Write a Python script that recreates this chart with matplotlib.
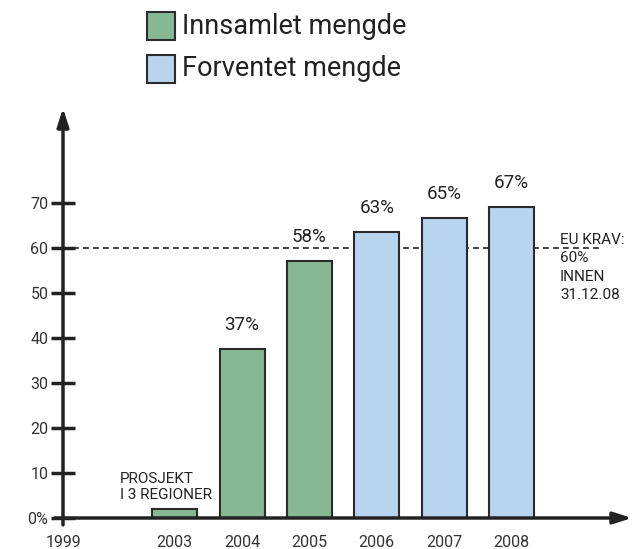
import matplotlib.pyplot as plt
from matplotlib.patches import Rectangle

# Data
years = ["2003", "2004", "2005", "2006", "2007", "2008"]
values = [2, 37.5, 57, 63.5, 66.5, 69]
bar_labels = ["", "37%", "58%", "63%", "65%", "67%"]
kinds = ["innsamlet", "innsamlet", "innsamlet", "forventet", "forventet", "forventet"]
y_ticks = [0, 10, 20, 30, 40, 50, 60, 70]
y_ticklabels = ["0%", "10", "20", "30", "40", "50", "60", "70"]
eu_krav = 60

green = "#86b894"
blue = "#b8d4ef"
edge = "#2b2b2b"
colors = {"innsamlet": green, "forventet": blue}

plt.rcParams["font.family"] = ["Roboto", "DejaVu Sans"]

fig = plt.figure(figsize=(6.42, 5.49), dpi=100)
ax = fig.add_axes([63 / 642, 31 / 549, (632 - 63) / 642, (518 - 108) / 549])

x = list(range(len(years)))
ax.bar(
    x,
    values,
    width=0.67,
    color=[colors[k] for k in kinds],
    edgecolor=edge,
    linewidth=1.5,
    zorder=2,
)

for xi, v, lab in zip(x, values, bar_labels):
    if lab:
        ax.text(xi, v + 5.4, lab, ha="center", va="center", fontsize=13.5, color="#222")

ax.text(-0.82, 3.6, "PROSJEKT\nI 3 REGIONER", ha="left", va="bottom",
        fontsize=11, color="#222", linespacing=1.15)

# EU requirement line
ax.plot([-1.66, 6.3], [eu_krav, eu_krav], ls=(0, (3.5, 2.5)), color="#222", lw=1.2, zorder=1,
        clip_on=False)
ax.text(5.72, 63.3, "EU KRAV:\n60%\nINNEN\n31.12.08", ha="left", va="top",
        fontsize=11, color="#222", linespacing=1.4)

ax.set_xlim(-1.66, 6.79)
ax.set_ylim(0, 91)

for s in ax.spines.values():
    s.set_visible(False)

ax.set_yticks(y_ticks)
ax.set_yticklabels(y_ticklabels, fontsize=11.5, color="#333")
ax.tick_params(axis="y", direction="inout", length=17, width=2.5, color="#222", pad=2)
ax.set_xticks([-1.66] + x)
ax.set_xticklabels(["1999"] + years, fontsize=11.5, color="#333")
ax.tick_params(axis="x", length=0, pad=12)

# arrow axes
ax.annotate("", xy=(0, 1), xytext=(0, -0.017), xycoords="axes fraction",
            arrowprops=dict(arrowstyle="-|>,head_length=1.1,head_width=0.35",
                            lw=2.5, color="#222", shrinkA=0, shrinkB=0))
ax.annotate("", xy=(1, 0), xytext=(-0.014, 0), xycoords="axes fraction",
            arrowprops=dict(arrowstyle="-|>,head_length=1.1,head_width=0.35",
                            lw=2.5, color="#222", shrinkA=0, shrinkB=0))

# legend
for i, (lab, c) in enumerate([("Innsamlet mengde", green), ("Forventet mengde", blue)]):
    yb = 1 - (40 + i * 43) / 549
    fig.patches.append(Rectangle((147 / 642, yb), 28 / 642, 28 / 549, transform=fig.transFigure,
                                 facecolor=c, edgecolor=edge, lw=1.5))
    fig.text(182 / 642, yb + 14 / 549, lab, fontsize=19.5, va="center", ha="left", color="#222")

plt.savefig("out.png", dpi=100)
